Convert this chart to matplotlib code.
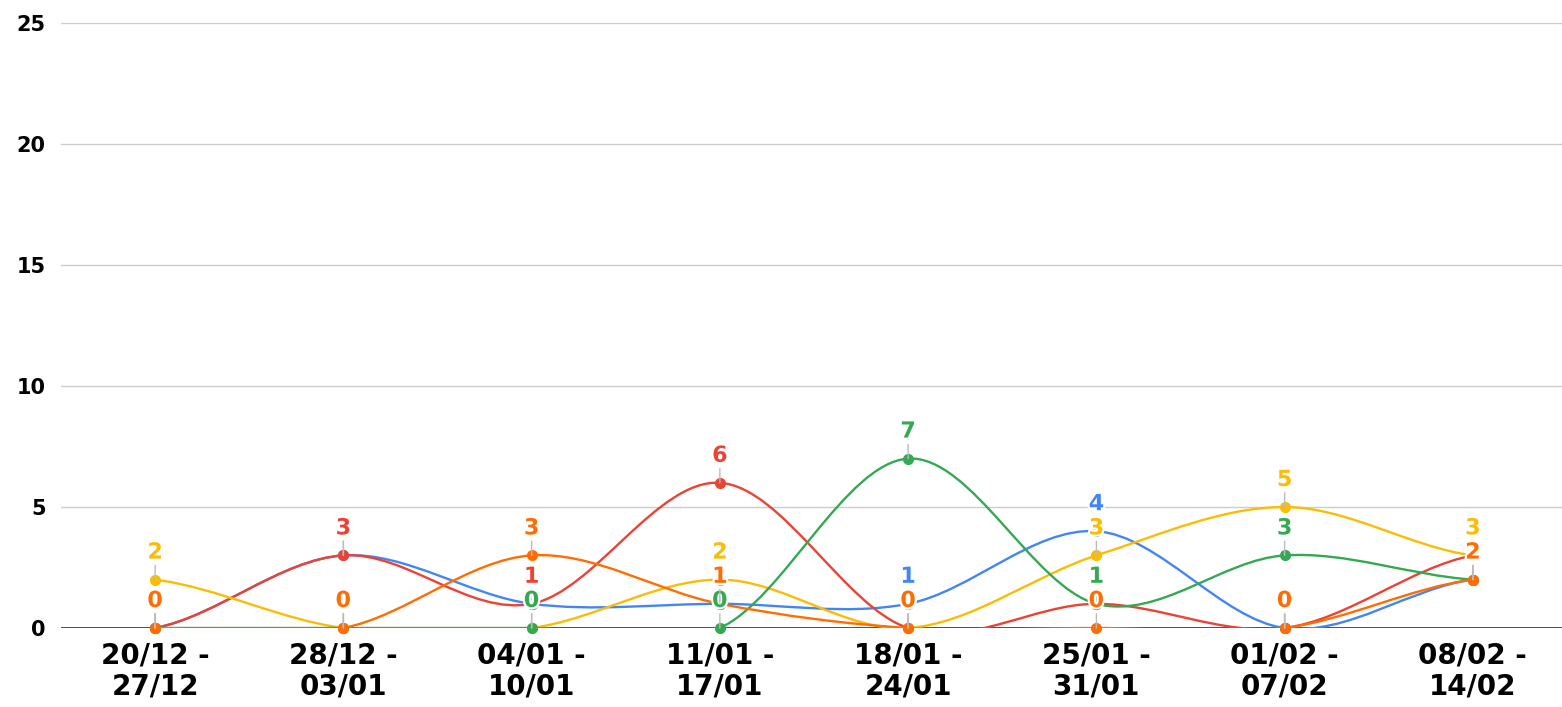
import matplotlib
matplotlib.use("Agg")
import matplotlib.pyplot as plt
import matplotlib.patheffects as pe
from matplotlib.path import Path
from matplotlib.patches import PathPatch

plt.rcParams['font.family'] = ['DejaVu Sans']

weeks = ["20/12 -\n27/12", "28/12 -\n03/01", "04/01 -\n10/01", "11/01 -\n17/01",
         "18/01 -\n24/01", "25/01 -\n31/01", "01/02 -\n07/02", "08/02 -\n14/02"]

blue = [0, 3, 1, 1, 1, 4, 0, 2]
red = [0, 3, 1, 6, 0, 1, 0, 3]
yellow = [2, 0, 0, 2, 0, 3, 5, 3]
green = [0, 0, 0, 0, 7, 1, 3, 2]
orange = [0, 0, 3, 1, 0, 0, 0, 2]

series = [(blue, "#4285F4"), (red, "#EA4335"), (yellow, "#FBBC04"),
          (green, "#34A853"), (orange, "#FF6D01")]


def smooth_path(vals):
    # catmull-rom style bezier through the points
    n = len(vals)
    verts = [(0, vals[0])]
    codes = [Path.MOVETO]
    for i in range(n - 1):
        y0 = vals[i - 1] if i > 0 else vals[i]
        y1 = vals[i]
        y2 = vals[i + 1]
        y3 = vals[i + 2] if i + 2 < n else vals[i + 1]
        verts += [(i + 1 / 3, y1 + (y2 - y0) / 6),
                  (i + 2 / 3, y2 - (y3 - y1) / 6),
                  (i + 1, y2)]
        codes += [Path.CURVE4] * 3
    return Path(verts, codes)


fig = plt.figure(figsize=(15.62, 7.07), dpi=100)
ax = fig.add_axes([61 / 1562, 79 / 707, 1506 / 1562, 605 / 707])

ax.set_xlim(-0.5, 7.5)
ax.set_ylim(0, 25)

for s in ax.spines.values():
    s.set_visible(False)

for v in [5, 10, 15, 20, 25]:
    ax.axhline(v, color="#cccccc", lw=1, zorder=0)
ax.axhline(0, color="#333333", lw=1.2, zorder=1)

x = list(range(len(weeks)))
for vals, col in series:
    ax.add_patch(PathPatch(smooth_path(vals), facecolor="none", edgecolor=col,
                           lw=1.7, zorder=2, clip_on=True))
    ax.plot(x, vals, "o", color=col, ms=7, zorder=3, clip_on=False)

for vals, col in series:
    for i, v in enumerate(vals):
        ax.annotate(str(v), xy=(i, v), xytext=(0, 27), textcoords="offset pixels",
                    ha="center", va="center", fontsize=16, fontweight="bold", color=col,
                    zorder=4, annotation_clip=False,
                    path_effects=[pe.withStroke(linewidth=3, foreground="white")],
                    arrowprops=dict(arrowstyle="-", color="#bbbbbb", lw=1,
                                    shrinkA=0, shrinkB=0))

ax.set_xticks(x)
ax.set_xticklabels(weeks, fontsize=20, fontweight="bold", linespacing=1.12,
                   multialignment="center")
ax.set_yticks([0, 5, 10, 15, 20, 25])
ax.set_yticklabels(["0", "5", "10", "15", "20", "25"], fontsize=15, fontweight="bold")
ax.tick_params(axis="both", length=0)
ax.tick_params(axis="y", pad=11)
ax.tick_params(axis="x", pad=10)

fig.savefig("out.png", dpi=100)
